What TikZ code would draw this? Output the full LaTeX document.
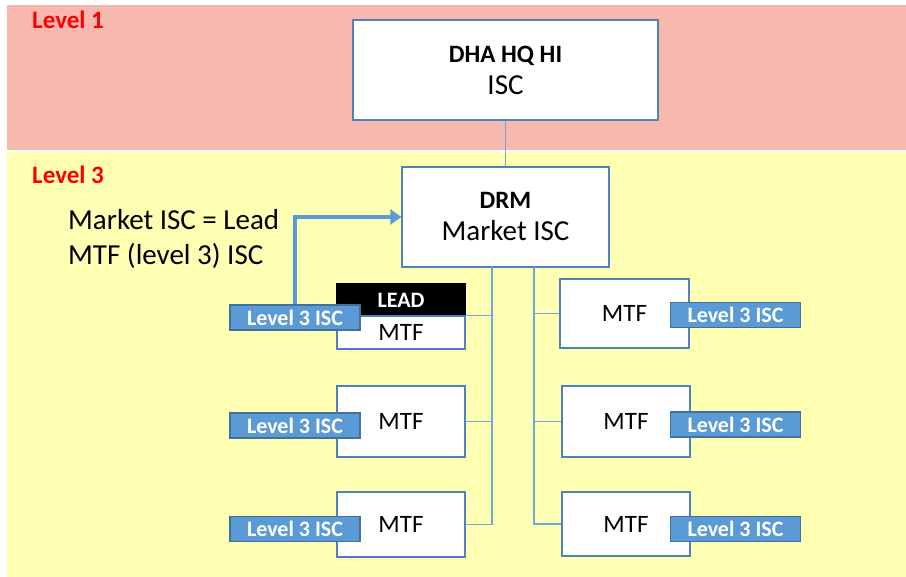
\documentclass[tikz,border=0pt]{standalone}
\usepackage{fontspec}
\setmainfont{Carlito}
\usepackage{tikz}
\usepackage{xcolor}
\usetikzlibrary{arrows.meta, positioning}

\definecolor{bandpink}{HTML}{F7B9AE}
\definecolor{bandyellow}{HTML}{FFFFB4}
\definecolor{tagblue}{HTML}{5B9BD5}
\definecolor{tagedge}{HTML}{41719C}
\definecolor{boxedge}{HTML}{4F81BD}
\definecolor{linkblue}{HTML}{6FA8DC}

\begin{document}
\begin{tikzpicture}[x=1pt, y=-1pt,
    box/.style={draw=boxedge, line width=1.2pt, fill=white, inner sep=0pt, align=center},
    tag/.style={draw=tagedge, line width=1.2pt, fill=tagblue, text=white, inner sep=0pt,
        minimum width=130pt, minimum height=25pt, font=\fontsize{22}{26}\selectfont\bfseries},
    conn/.style={draw=linkblue, line width=1.2pt},
    lvl/.style={anchor=west, inner sep=0pt, text=red, font=\fontsize{25}{30}\selectfont\bfseries}]

        % Bands
        \useasboundingbox (0,0) rectangle (906,577);
        \fill[white] (0,0) rectangle (906,577);
        \fill[bandpink] (7,5) rectangle (906,150);
        \fill[bandyellow] (7,152) rectangle (906,577);
        \node[lvl] (lvl1) at (32,20) {Level 1};
        \node[lvl] (lvl3) at (32,175) {Level 3};

        % Top boxes
        \node[box, minimum width=305pt, minimum height=100pt, font=\fontsize{29}{32}\selectfont] (dha) at (505.5,70)
            {{\fontsize{25}{32}\selectfont\bfseries DHA HQ HI}\\ISC};
        \node[box, minimum width=207pt, minimum height=100pt, font=\fontsize{29}{32}\selectfont] (drm) at (505.5,217)
            {{\fontsize{25}{32}\selectfont\bfseries DRM}\\Market ISC};

        % MTF boxes, left
        \node[box, draw=black, fill=black, text=white, minimum width=128pt, minimum height=32pt,
            font=\fontsize{22}{26}\selectfont\bfseries] (lead) at (401,300) {LEAD};
        \node[box, minimum width=128pt, minimum height=33pt, font=\fontsize{25}{30}\selectfont]
            (mtf1) at (401,332.5) {MTF};
        \node[box, minimum width=128pt, minimum height=71pt, font=\fontsize{25}{30}\selectfont]
            (mtf2) at (401,421.5) {MTF};
        \node[box, minimum width=128pt, minimum height=65pt, font=\fontsize{25}{30}\selectfont]
            (mtf3) at (401,524.5) {MTF};

        % MTF boxes, right
        \node[box, minimum width=129pt, minimum height=69pt, font=\fontsize{25}{30}\selectfont]
            (mtf4) at (624.5,313.5) {MTF};
        \node[box, minimum width=128pt, minimum height=71pt, font=\fontsize{25}{30}\selectfont]
            (mtf5) at (626,421.5) {MTF};
        \node[box, minimum width=128pt, minimum height=64pt, font=\fontsize{25}{30}\selectfont]
            (mtf6) at (626,524) {MTF};

        % Connectors
        \coordinate (trunkL) at (492,267);
        \coordinate (trunkR) at (534,267);
        \draw[conn] (dha.south) -- (drm.north);
        \draw[conn] (trunkL) |- (mtf3.east);
        \draw[conn] (trunkL |- mtf2.east) -- (mtf2.east);
        \draw[conn] (trunkL |- mtf1.north east) -- (mtf1.north east);
        \draw[conn] (trunkR) |- (mtf6.west);
        \draw[conn] (trunkR |- mtf5.west) -- (mtf5.west);
        \draw[conn] (trunkR |- mtf4.west) -- (mtf4.west);

        % Level 3 ISC tags
        \node[tag] (tag1) at (295,317.5) {Level 3 ISC};
        \node[tag] (tag2) at (295,425.5) {Level 3 ISC};
        \node[tag] (tag3) at (295,529) {Level 3 ISC};
        \node[tag] (tag4) at (735.5,315) {Level 3 ISC};
        \node[tag] (tag5) at (735.5,424.5) {Level 3 ISC};
        \node[tag] (tag6) at (735.5,529) {Level 3 ISC};

        % Note
        \node[anchor=west, align=left, inner sep=0pt, font=\fontsize{29}{35}\selectfont] (note) at (68,238.5)
            {Market ISC = Lead\\MTF (level 3) ISC};
        \draw[tagblue, line width=4pt, -{Triangle[length=11pt, width=15pt]}]
            (tag1.north) |- (drm.west);

    \end{tikzpicture}
\end{document}
